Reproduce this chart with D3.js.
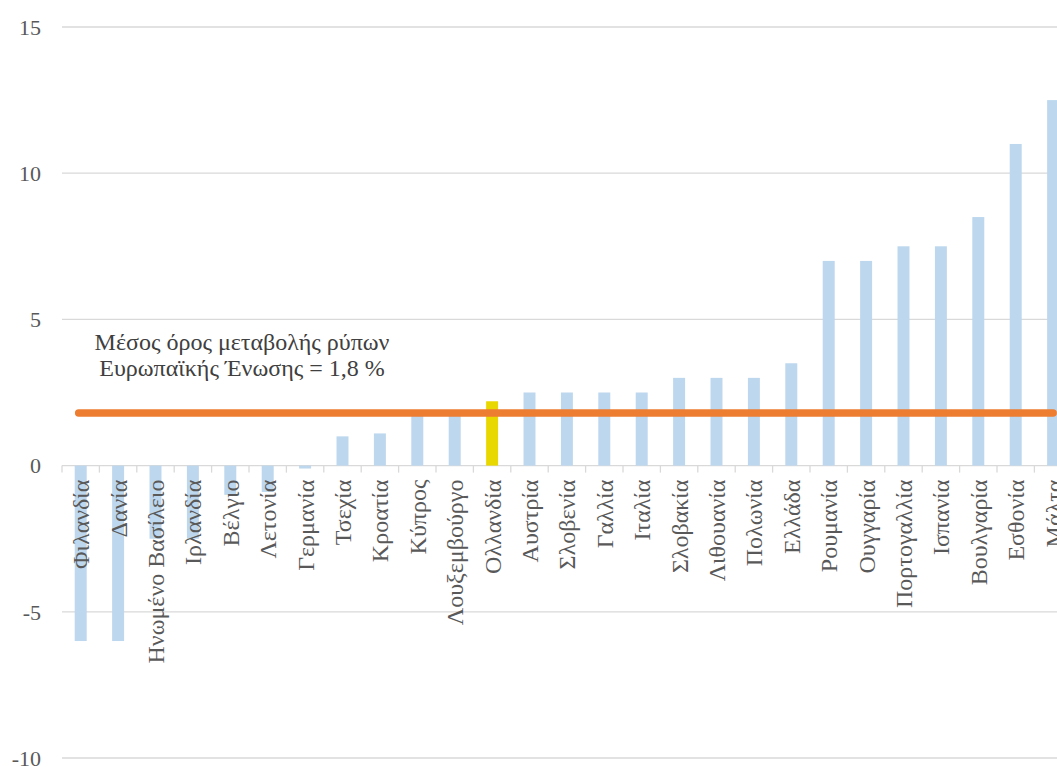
<!DOCTYPE html>
<html>
<head>
<meta charset="utf-8">
<script src="https://cdn.jsdelivr.net/npm/d3@7"></script>
<style>
  body { margin: 0; background: #fff; }
</style>
</head>
<body>
<div id="chart"></div>
<script>
// countries, sorted as in the picture
const countries = ['Φιλανδία', 'Δανία', 'Ηνωμένο Βασίλειο', 'Ιρλανδία', 'Βέλγιο', 'Λετονία',
	'Γερμανία', 'Τσεχία', 'Κροατία', 'Κύπρος', 'Λουξεμβούργο', 'Ολλανδία', 'Αυστρία',
	'Σλοβενία', 'Γαλλία', 'Ιταλία', 'Σλοβακία', 'Λιθουανία', 'Πολωνία', 'Ελλάδα',
	'Ρουμανία', 'Ουγγαρία', 'Πορτογαλλία', 'Ισπανία', 'Βουλγαρία', 'Εσθονία', 'Μάλτα']

const changes = [-6.0, -6.0, -2.5, -2.5, -1.0, -0.9, -0.1, 1.0, 1.1, 1.7, 1.7, 2.2, 2.5,
	2.5, 2.5, 2.5, 3.0, 3.0, 3.0, 3.5, 7.0, 7.0, 7.5, 7.5, 8.5, 11.0, 12.5]

const highlighted = 'Ολλανδία'
const euAverage = 1.8
const yTicks = [-10, -5, 0, 5, 10, 15]
const noteLines = ['Μέσος όρος μεταβολής ρύπων', 'Ευρωπαϊκής Ένωσης = 1,8 %']

let data = countries.map((c, i) => ({country: c, value: changes[i]}))

let width = 1057
let height = 767
let margin = ({top: 27, left: 62, bottom: 9})
let step = 37.4
let font = "'Liberation Serif', 'Times New Roman', Times, 'DejaVu Serif', serif"

const svg = d3.select('#chart')
	.append('svg')
	.attr('width', width)
	.attr('height', height)
	.attr('font-family', font)

let x = d3.scaleBand()
	.domain(countries)
	.range([margin.left, margin.left + step * countries.length])
	.paddingInner(0.68)
	.paddingOuter(0.34)

let y = d3.scaleLinear()
	.domain([-10, 15])
	.range([height - margin.bottom, margin.top])

// grid lines
svg.append('g')
	.selectAll('line')
	.data(yTicks)
	.enter()
	.append('line')
	.attr('x1', margin.left)
	.attr('x2', width)
	.attr('y1', d => y(d))
	.attr('y2', d => y(d))
	.attr('stroke', '#d9d9d9')
	.attr('stroke-width', 1.3)

// y labels
svg.append('g')
	.selectAll('text')
	.data(yTicks)
	.enter()
	.append('text')
	.attr('x', 41)
	.attr('y', d => y(d))
	.attr('dy', '0.35em')
	.attr('text-anchor', 'end')
	.attr('fill', '#595959')
	.attr('font-family', font)
	.attr('font-size', 22)
	.text(d => d)

// bars
svg.append('g')
	.selectAll('rect')
	.data(data)
	.enter()
	.append('rect')
	.attr('x', d => x(d.country))
	.attr('width', x.bandwidth())
	.attr('y', d => y(Math.max(0, d.value)))
	.attr('height', d => Math.abs(y(d.value) - y(0)))
	.attr('fill', d => d.country == highlighted ? '#E9D800' : '#BDD7EE')

// category ticks on the zero line
let boundaries = d3.range(countries.length + 1).map(i => margin.left + i * x.step())

svg.append('g')
	.selectAll('line')
	.data(boundaries)
	.enter()
	.append('line')
	.attr('x1', d => d)
	.attr('x2', d => d)
	.attr('y1', y(0))
	.attr('y2', y(0) + 7)
	.attr('stroke', '#d9d9d9')
	.attr('stroke-width', 1.3)

// category labels
svg.append('g')
	.selectAll('text')
	.data(countries)
	.enter()
	.append('text')
	.attr('transform', d => `translate(${x(d) + x.bandwidth() / 2},${y(0) + 14}) rotate(-90)`)
	.attr('dy', '0.35em')
	.attr('text-anchor', 'end')
	.attr('fill', '#595959')
	.attr('font-family', font)
	.attr('font-size', 24)
	.text(d => d)

// EU average line
svg.append('line')
	.attr('x1', x(countries[0]) + x.bandwidth() / 2 - 2)
	.attr('x2', x(countries[countries.length - 1]) + x.bandwidth() / 2)
	.attr('y1', y(euAverage))
	.attr('y2', y(euAverage))
	.attr('stroke', '#ED7D31')
	.attr('stroke-width', 7.5)
	.attr('stroke-linecap', 'round')

svg.append('g')
	.selectAll('text')
	.data(noteLines)
	.enter()
	.append('text')
	.attr('x', 242)
	.attr('y', (d, i) => 350 + i * 26)
	.attr('text-anchor', 'middle')
	.attr('fill', '#404040')
	.attr('font-family', font)
	.attr('font-size', 24)
	.text(d => d)
</script>
</body>
</html>
